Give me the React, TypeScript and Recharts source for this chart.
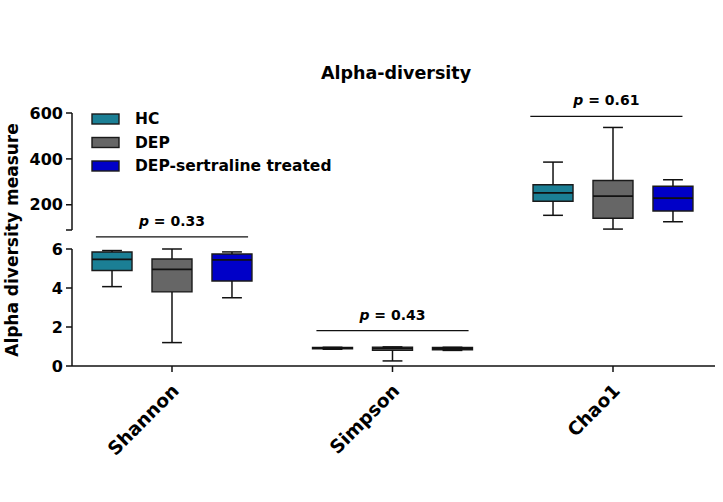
import React from 'react'
import { ComposedChart, XAxis, YAxis, ReferenceArea, ReferenceLine, Label } from 'recharts'

const FONT = '"DejaVu Sans", sans-serif'

const categories = ['Shannon', 'Simpson', 'Chao1']
const groups = ['HC', 'DEP', 'DEP-sertraline treated']
const groupColors = ['#1b7f95', '#666666', '#0000c8']

// box stats per group: [min, q1, median, q3, max]
const shannonStats = [
  [4.07, 4.9, 5.47, 5.85, 5.92],
  [1.2, 3.8, 4.96, 5.49, 6.0],
  [3.5, 4.36, 5.44, 5.74, 5.85],
]
const simpsonStats = [
  [0.86, 0.88, 0.93, 0.95, 0.96],
  [0.26, 0.8, 0.9, 0.97, 0.98],
  [0.8, 0.83, 0.9, 0.95, 0.96],
]
const chao1Stats = [
  [154, 215, 252, 287, 386],
  [94, 141, 238, 306, 537],
  [126, 173, 229, 281, 309],
]

const pValues = ['0.33', '0.43', '0.61']
const pBarLevels = [6.62, 1.81, 585]

const lowerTicks = [0, 2, 4, 6]
const upperTicks = [90, 200, 400, 600]
const lowerDomain = [0, 6]
const upperDomain = [90, 600]

const xDomain = [0.5465, 3.4626]
const catPositions = categories.map((_, i) => i + 1)
// the Chao1 bracket sits a little left of its category
const pBarShift = [0, 0, -0.03]

// layout bits
const GROUP_OFFSET = 0.272
const BOX_HALF = 0.0907
const CAP_HALF = 0.045
const BAR_HALF = 0.345

const axisStroke = { stroke: '#111', strokeWidth: 1.5 }
const tickStyle = { fontFamily: FONT, fontWeight: 'bold', fontSize: 16, fill: '#000' }

function boxElements(stats: number[][], catIndex: number) {
  const center = catPositions[catIndex]
  const out: React.ReactNode[] = []
  stats.forEach((s, g) => {
    const [min, q1, med, q3, max] = s
    const c = center + (g - 1) * GROUP_OFFSET
    const key = `${catIndex}-${g}`
    out.push(
      <ReferenceLine key={key + 'wl'} segment={[{ x: c, y: min }, { x: c, y: q1 }]} stroke="#111" strokeWidth={1.5} ifOverflow="visible" />,
      <ReferenceLine key={key + 'wh'} segment={[{ x: c, y: q3 }, { x: c, y: max }]} stroke="#111" strokeWidth={1.5} ifOverflow="visible" />,
      <ReferenceLine key={key + 'cl'} segment={[{ x: c - CAP_HALF, y: min }, { x: c + CAP_HALF, y: min }]} stroke="#111" strokeWidth={1.5} ifOverflow="visible" />,
      <ReferenceLine key={key + 'ch'} segment={[{ x: c - CAP_HALF, y: max }, { x: c + CAP_HALF, y: max }]} stroke="#111" strokeWidth={1.5} ifOverflow="visible" />,
      <ReferenceArea key={key + 'box'} x1={c - BOX_HALF} x2={c + BOX_HALF} y1={q1} y2={q3} fill={groupColors[g]} fillOpacity={1} stroke="#1a1a1a" strokeWidth={1.4} ifOverflow="visible" />,
      <ReferenceLine key={key + 'med'} segment={[{ x: c - BOX_HALF, y: med }, { x: c + BOX_HALF, y: med }]} stroke="#111" strokeWidth={1.8} ifOverflow="visible" />,
    )
  })
  return out
}

function pBar(catIndex: number) {
  const c = catPositions[catIndex] + pBarShift[catIndex]
  const y = pBarLevels[catIndex]
  return (
    <ReferenceLine
      key={'p' + catIndex}
      segment={[{ x: c - BAR_HALF, y }, { x: c + BAR_HALF, y }]}
      stroke="#111"
      strokeWidth={1.3}
      ifOverflow="visible"
    >
      <Label
        content={(props: any) => {
          const vb = props.viewBox || {}
          return (
            <text
              x={vb.x + vb.width / 2}
              y={vb.y - 11}
              textAnchor="middle"
              fontFamily={FONT}
              fontWeight="bold"
              fontSize={14}
              fill="#000"
            >
              <tspan fontStyle="italic">p</tspan> = {pValues[catIndex]}
            </text>
          )
        }}
      />
    </ReferenceLine>
  )
}

const CategoryTick = (props: any) => {
  const { x, y, payload } = props
  const ax = x + 8
  const ay = y + 18
  return (
    <text
      x={ax}
      y={ay}
      transform={`rotate(-45 ${ax} ${ay})`}
      textAnchor="end"
      fontFamily={FONT}
      fontWeight="bold"
      fontSize={18.5}
      fill="#000"
    >
      {categories[payload.value - 1]}
    </text>
  )
}

const chartData = catPositions.map(p => ({ pos: p }))

export default function App() {
  return (
    <div style={{ position: 'absolute', left: 0, top: 0, width: 723, height: 502, background: '#fff' }}>
      {/* upper segment: Chao1 */}
      <div style={{ position: 'absolute', left: 0, top: 0 }}>
        <ComposedChart width={723} height={502} data={chartData} margin={{ top: 113, right: 8, bottom: 272, left: 12 }}>
          <XAxis type="number" dataKey="pos" domain={xDomain} allowDataOverflow hide />
          <YAxis
            type="number"
            domain={upperDomain}
            ticks={upperTicks}
            allowDataOverflow
            width={60}
            tickSize={6}
            tickMargin={3}
            axisLine={axisStroke}
            tickLine={axisStroke}
            tick={tickStyle}
            tickFormatter={(v: number) => (v === 90 ? '' : String(v))}
          />
          {boxElements(chao1Stats, 2)}
          {pBar(2)}
        </ComposedChart>
      </div>
      {/* lower segment: Shannon, Simpson */}
      <div style={{ position: 'absolute', left: 0, top: 0 }}>
        <ComposedChart width={723} height={502} data={chartData} margin={{ top: 249, right: 8, bottom: 36, left: 12 }}>
          <XAxis
            type="number"
            dataKey="pos"
            domain={xDomain}
            ticks={catPositions}
            interval={0}
            allowDataOverflow
            height={100}
            tickSize={6}
            axisLine={axisStroke}
            tickLine={axisStroke}
            tick={<CategoryTick />}
          />
          <YAxis
            type="number"
            domain={lowerDomain}
            ticks={lowerTicks}
            allowDataOverflow
            width={60}
            tickSize={6}
            tickMargin={3}
            axisLine={axisStroke}
            tickLine={axisStroke}
            tick={tickStyle}
          />
          {boxElements(shannonStats, 0)}
          {boxElements(simpsonStats, 1)}
          {pBar(0)}
          {pBar(1)}
        </ComposedChart>
      </div>
      {/* title, axis label, legend */}
      <svg width={723} height={502} style={{ position: 'absolute', left: 0, top: 0, pointerEvents: 'none' }}>
        <text x={396} y={73} textAnchor="middle" dominantBaseline="central" fontFamily={FONT} fontWeight="bold" fontSize={17.5} fill="#000">
          Alpha-diversity
        </text>
        <text
          x={12}
          y={240}
          transform="rotate(-90 12 240)"
          textAnchor="middle"
          dominantBaseline="central"
          fontFamily={FONT}
          fontWeight="bold"
          fontSize={17}
          fill="#000"
        >
          Alpha diversity measure
        </text>
        {groups.map((g, i) => {
          const cy = 119 + i * 23.5
          return (
            <g key={g}>
              <rect x={92} y={cy - 5} width={27} height={10} fill={groupColors[i]} stroke="#1a1a1a" strokeWidth={1.4} />
              <text x={135} y={cy} dominantBaseline="central" fontFamily={FONT} fontWeight="bold" fontSize={15.5} fill="#000">
                {g}
              </text>
            </g>
          )
        })}
      </svg>
    </div>
  )
}
